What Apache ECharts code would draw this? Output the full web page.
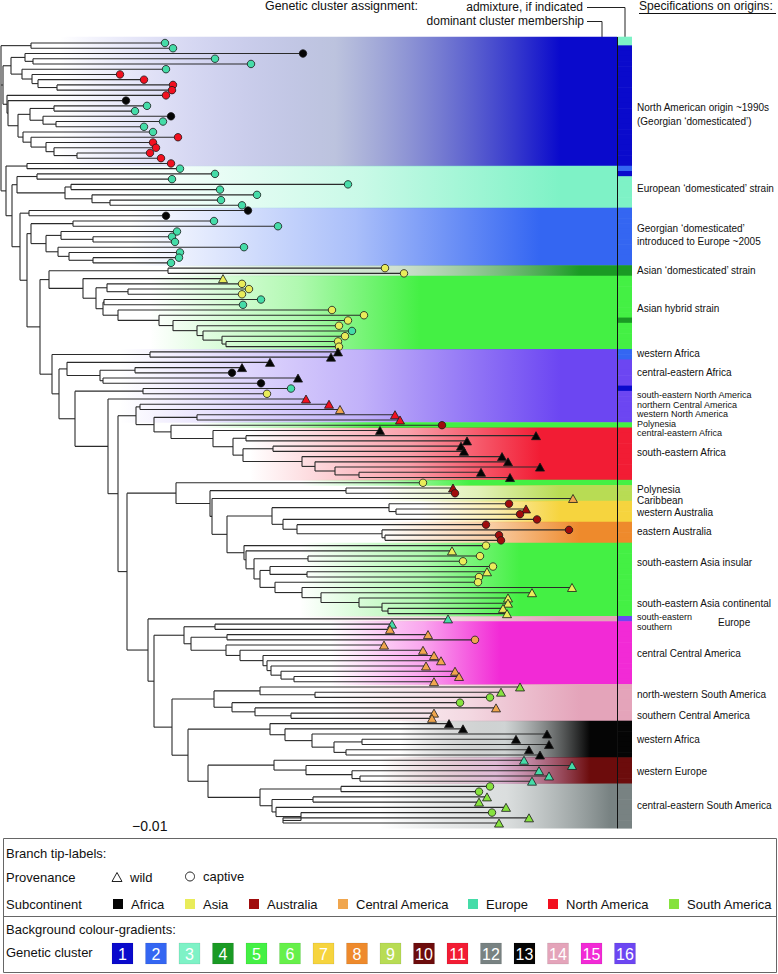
<!DOCTYPE html>
<html>
<head>
<meta charset="utf-8">
<script src="https://cdn.jsdelivr.net/npm/echarts@6/dist/echarts.min.js"></script>
<style>html,body{margin:0;padding:0;background:#fff}#c{width:778px;height:974px}</style>
</head>
<body>
<div id="c"></div>
<script>
// ================= DATA =================
// tip depth of every terminal branch (genetic distance, 1 unit = 0.01/8 subst.), leaves top to bottom
const tipDepth = [165,173,303,215,251,166,120,144,173,172, 166,126,147,135,171,163,144,153,178,153,
  156,150,161,171,180,215,172,348,220,257, 221,242,248,166,214,278,177,172,175,244,
  180,179,171,385,404,223,242,249,242,261, 243,332,364,348,339,352,345,338,339,338,
  331,270,242,232,298,261,291,267,306,329, 340,395,400,442,380,536,467,461,464,502,
  508,540,481,510,423,453,455,573,509,526, 520,537,486,569,499,501,486,452,480,463,
  493,487,479,478,572,532,508,508,503,507, 448,392,390,428,475,384,423,434,441,426,
  455,459,434,520,501,490,460,496,434,432, 449,463,547,516,549,529,540,524,572,539,
  549,532,490,479,487,479,506,492,529,499];
// provenance per leaf: t = wild, c = captive
const provenance = 'cccccccccc' + 'cccccccccc' + 'cccccccccc' + 'cccccccccc' + 'ccccctcccc' +
  'ccccccccct' + 'tttctccctt' + 'tttctttttt' + 'ttttctctct' + 'ccccccctcc' +
  'ctcctttttt' + 'ttttcttttt' + 'tttttccttt' + 'tttttttttt' + 'ttcctttctt';
// subcontinent per leaf: F Africa, A Asia, U Australia, C Central America, E Europe, N North America, S South America
const subcontinent = 'EEFEEENNNN' + 'NFEEFEEENN' + 'NNNNEEEEEE' + 'EEFFEEEEEE' + 'EEEAAAAAAE' +
  'EAAAAEAAAF' + 'FFFFFFEANN' + 'CNNUFFFFFF' + 'FFFFAUUCUU' + 'UUUUUUAAAA' +
  'AAAAAAAAAA' + 'EECCCCCCCC' + 'CCCSSSSCCC' + 'FFFFFFFEEE' + 'EESSSSSSSS';

// tree topology: [node depth, child, child...]; '*' = next leaf
const cladeNA = [31,'*','*'];
const cladeGeorgia1 = [3,
  [11,[25,'*',[33,'*','*']],[22,'*',[32,'*',[38,'*',[57,'*','*']]]]],
  [7,'*',[8,'*',[18,[30,[54,'*','*'],[43,'*',[56,'*','*']]],[23,'*',[31,'*',[46,'*',[54,'*',[77,'*','*']]]]]]]]];
const cladeEU1 = [27,'*','*'];
const cladeEU2 = [17,[37,'*','*'],[65,[71,'*','*'],[92,'*',[110,'*','*']]]];
const cladeGE2a = [29,'*','*'];
const cladeGE2b = [31,[73,'*','*'],[46,[61,'*',[93,'*','*']],[58,'*',[69,'*',[93,'*','*']]]]];
const cladeAsia = [49,[168,'*','*'],[83,'*',[96,[107,'*',[128,'*','*']],[103,[104,'*','*'],[118,'*',[159,'*',[173,'*',[197,'*',[203,'*',[222,'*',[226,'*','*']]]]]]]]]]];
const cladeAfrW = [150,'*','*'];
const cladeAfrCE = [67,'*',[100,[135,'*','*'],[103,'*','*']]];
const cladeMixA = [143,'*','*'];
const cladeRed = [136,[140,'*','*'],[154,[197,'*','*'],[171,'*',[213,'*',[233,[246,'*','*'],[243,[273,'*','*'],[302,'*',[315,'*',[335,'*',[359,'*','*']]]]]]]]]];
const cladeSEA = [244,'*',[246,'*',[254,[308,'*','*'],[260,[270,'*',[307,'*','*']],[275,'*',[302,'*',[321,'*',[359,'*',[382,'*',[388,'*','*']]]]]]]]]];
const cladeAus = [227,[272,[389,'*',[396,'*','*']],[283,'*',[297,'*',[382,'*',[385,'*','*']]]]],cladeSEA];
const cladePac = [176,'*',[210,[346,'*','*'],[212,'*',cladeAus]]];
const cladeCAm = [184,[215,'*','*'],[191,[227,'*','*'],[226,'*',[240,'*',[263,'*',[267,'*',[271,'*',[281,'*',[294,'*','*']]]]]]]]];
const cladeSAm = [214,[260,'*',[315,'*','*']],[232,'*',[255,'*',[291,'*','*']]]];
const cladeAfrW2 = [270,'*',[285,'*',[312,'*',[334,[362,'*','*'],[346,'*','*']]]]];
const cladeEurW = [274,'*',[306,'*',[352,'*',[360,'*','*']]]];
const cladeSAm2 = [260,[341,'*','*'],[272,[313,'*','*'],[276,'*',[301,'*',[283,'*','*']]]]];
const tree = [1, cladeNA, cladeGeorgia1,
  [6, cladeEU1,
   [12, cladeEU2,
    [20, cladeGE2a,
     [27, cladeGE2b,
      [40, cladeAsia,
       [52, cladeAfrW,
        [59, cladeAfrCE,
         [75, cladeMixA,
          [108, '*',
           [118, cladeRed,
            [127, cladePac,
             [148, '*',
              [154, cladeCAm,
               [172, cladeSAm,
                [188, cladeAfrW2,
                 [208, cladeEurW, cladeSAm2]]]]]]]]]]]]]]]]];

// background bands: dominant genetic cluster per leaf block
const bandStart   = [0,24,32,43,45,59,73,74,84,85,88,92,96,110,111,123,130,137,142];
const bandEnd     = [23,31,42,44,58,72,73,83,84,87,91,95,109,110,122,129,136,141,149];
const bandCluster = [1,3,2,4,5,16,5,11,5,9,7,8,5,14,15,14,13,10,12];
// admixture column: rows whose indicated cluster differs from the band
const admixRows     = [0,24,25,53,59,60,66,110];
const admixClusters = [3,2,1,4,2,2,1,16];

// origin specifications
const originLabels = ['North American origin ~1990s','(Georgian \u2018domesticated\u2019)','European \u2018domesticated\u2019 strain',
  'Georgian \u2018domesticated\u2019','introduced to Europe ~2005','Asian \u2018domesticated\u2019 strain','Asian hybrid strain',
  'western Africa','central-eastern Africa','south-eastern North America','northern Central America','western North America',
  'Polynesia','central-eastern Africa','south-eastern Africa','Polynesia','Caribbean','western Australia','eastern Australia',
  'south-eastern Asia insular','south-eastern Asia continental','south-eastern','southern','Europe','central Central America',
  'north-western South America','southern Central America','western Africa','western Europe','central-eastern South America'];
const originRows = [12.4,14.9,27.7,35.5,38.0,43.5,50.8,59.4,63.0,67.24,69.05,70.87,72.68,74.5,78.3,85.2,87.3,89.6,93.4,
  99.3,107.0,109.65,111.46,110.7,116.7,124.4,128.4,133.1,139.1,145.6];

const regionCodes = 'FAUCENS';
const regionNames = ['Africa','Asia','Australia','Central America','Europe','North America','South America'];
const provenanceNames = ['wild','captive'];
const clusterIds = [1,2,3,4,5,6,7,8,9,10,11,12,13,14,15,16];
const scaleLabel = '\u22120.01';

// ================= STYLE =================
const regionColors = ['#050505','#e9ec5a','#a00c0c','#f0a64e','#45dca8','#f2101f','#86e23e'];
const clusterColors = [null,'#0a0acc','#3466f2','#7ef2c6','#1a9a24','#44f044','#66f04a','#f6d43e','#ee8a2c','#b8dc54',
  '#6c0c0c','#f21c34','#788282','#050505','#e4a4ba','#f22ad6','#6c46f2'];
const clusterMid = {1:'#6070b0',4:'#8fb890',10:'#b45a9e',13:'#8e9898',12:'#a8b0b0'};
const bandFade = [[60,560],[120,560],[130,540],[170,580],[150,420],[120,560],[200,380],[250,540],[300,470],[380,560],
  [420,560],[380,580],[300,520],[300,560],[330,500],[330,580],[400,590],[380,590],[380,610]];
const FONT = '"Liberation Sans", Arial, sans-serif';
const X_MAX = 778, Y_MIN = -1.15, Y_MAX = 150, BAND_X1 = 617, BAR_X0 = 617, BAR_X1 = 632, LABEL_X = 637;
const labelShift = {23: 81};
const labelSize = {9: 9, 10: 9, 11: 9, 12: 9, 13: 9, 21: 9, 22: 9};

// ================= BUILD =================
const N = tipDepth.length;
let leafCounter = 0;
const segs = [];
function layout(node) {
  if (node === '*') { const i = leafCounter++; return {y: i, x: tipDepth[i]}; }
  const x = node[0];
  const kids = node.slice(1).map(layout);
  const y0 = kids[0].y, y1 = kids[kids.length - 1].y;
  segs.push([x, y0, x, y1]);
  kids.forEach(k => segs.push([x, k.y, k.x, k.y]));
  return {y: (y0 + y1) / 2, x: x};
}
layout(tree);

function rgba(hex, a) {
  const v = parseInt(hex.slice(1), 16);
  return 'rgba(' + (v >> 16 & 255) + ',' + (v >> 8 & 255) + ',' + (v & 255) + ',' + a + ')';
}

const bandData = bandStart.map((s, b) => [s, bandEnd[b], bandCluster[b], b]);
const barData = [];
for (let b = 0; b < bandStart.length; b++) for (let r = bandStart[b]; r <= bandEnd[b]; r++) {
  const k = admixRows.indexOf(r);
  barData.push([r, k >= 0 ? admixClusters[k] : bandCluster[b]]);
}
const tipData = tipDepth.map((d, i) => {
  const wild = provenance[i] === 't';
  return {value: [d, i], symbol: wild ? 'triangle' : 'circle', symbolSize: wild ? [9, 8] : 7.5,
    itemStyle: {color: regionColors[regionCodes.indexOf(subcontinent[i])], borderColor: '#1a1a1a', borderWidth: 0.8, opacity: 1}};
});
const labelData = originRows.map((r, i) => [r, i]);

function bandItem(params, api) {
  const s = api.value(0), e = api.value(1), c = api.value(2), b = api.value(3);
  const y0 = s === 0 ? Y_MIN : s - 0.5, y1 = e === N - 1 ? Y_MAX : e + 0.5;
  const p0 = api.coord([0, y0]), p1 = api.coord([BAND_X1, y1]);
  const col = clusterColors[c];
  const fs = bandFade[b][0] / BAND_X1, ff = bandFade[b][1] / BAND_X1, fm = fs + (ff - fs) * 0.55;
  const stops = [
    {offset: 0, color: rgba(col, 0)}, {offset: fs, color: rgba(col, 0)},
    {offset: fm, color: rgba(clusterMid[c] || col, 0.42)},
    {offset: ff, color: rgba(col, 1)}, {offset: 1, color: rgba(col, 1)}];
  return {type: 'rect', shape: {x: p0[0], y: p0[1] - 0.3, width: p1[0] - p0[0], height: p1[1] - p0[1] + 0.6},
    style: {fill: new echarts.graphic.LinearGradient(0, 0, 1, 0, stops)}};
}
function barItem(params, api) {
  const r = api.value(0), c = api.value(1);
  const y0 = r === 0 ? Y_MIN : r - 0.5, y1 = r === N - 1 ? Y_MAX : r + 0.5;
  const p0 = api.coord([BAR_X0, y0]), p1 = api.coord([BAR_X1, y1]);
  return {type: 'rect', shape: {x: p0[0], y: p0[1] - 0.3, width: p1[0] - p0[0], height: p1[1] - p0[1] + 0.6},
    style: {fill: clusterColors[c]}};
}
function segItem(params, api) {
  const a = api.coord([api.value(0), api.value(1)]), b = api.coord([api.value(2), api.value(3)]);
  return {type: 'line', shape: {x1: a[0], y1: a[1], x2: b[0], y2: b[1]}, style: {stroke: '#2b2b2b', lineWidth: 1.1}};
}
function labelItem(params, api) {
  const i = api.value(1);
  const p = api.coord([LABEL_X + (labelShift[i] || 0), api.value(0)]);
  return {type: 'text', x: p[0], y: p[1], style: {text: originLabels[i], fill: '#111', font: (labelSize[i] || 10) + 'px ' + FONT,
    align: 'left', verticalAlign: 'middle', textAlign: 'left', textVerticalAlign: 'middle'}};
}
function barEdge(params, api) {
  const a = api.coord([BAR_X0, Y_MIN]), b = api.coord([BAR_X0, Y_MAX]);
  return {type: 'line', shape: {x1: a[0] + 0.5, y1: a[1], x2: b[0] + 0.5, y2: b[1]}, style: {stroke: '#111', lineWidth: 1}};
}

// ---- graphic: annotations and legend ----
function txt(x, y, s, size, opts) {
  return {type: 'text', x: x, y: y, z: 10, style: Object.assign({text: s, fill: '#111', font: size + 'px ' + FONT,
    align: 'left', verticalAlign: 'middle', textAlign: 'left', textVerticalAlign: 'middle'}, opts || {})};
}
const G = [];
G.push(txt(265, 6, 'Genetic cluster assignment:', 12.4));
G.push(txt(583, 7, 'admixture, if indicated', 12, {align: 'right', textAlign: 'right'}));
G.push(txt(584, 21, 'dominant cluster membership', 12, {align: 'right', textAlign: 'right'}));
G.push({type: 'polyline', shape: {points: [[587, 7.5], [625, 7.5], [625, 37]]}, style: {stroke: '#222', lineWidth: 1, fill: null}});
G.push({type: 'polyline', shape: {points: [[587, 21.5], [602, 21.5], [602, 37]]}, style: {stroke: '#222', lineWidth: 1, fill: null}});
G.push(txt(639, 6, 'Specifications on origins:', 12.1));
G.push({type: 'line', shape: {x1: 639, y1: 13.5, x2: 776, y2: 13.5}, style: {stroke: '#111', lineWidth: 1}});
G.push(txt(132, 826, scaleLabel, 14));
// legend box
G.push({type: 'rect', shape: {x: 3.5, y: 838.5, width: 773, height: 134}, style: {fill: 'none', stroke: '#666', lineWidth: 1}});
G.push({type: 'line', shape: {x1: 3.5, y1: 916.5, x2: 776.5, y2: 916.5}, style: {stroke: '#666', lineWidth: 1}});
G.push(txt(6, 853, 'Branch tip-labels:', 13));
G.push(txt(6, 877, 'Provenance', 13));
G.push({type: 'polygon', shape: {points: [[112, 881.5], [122, 881.5], [117, 872.5]]}, style: {fill: 'none', stroke: '#222', lineWidth: 1}});
G.push(txt(130, 877, provenanceNames[0], 13));
G.push({type: 'circle', shape: {cx: 190, cy: 876.5, r: 4.5}, style: {fill: 'none', stroke: '#222', lineWidth: 1}});
G.push(txt(203, 876, provenanceNames[1], 13));
G.push(txt(6, 904, 'Subcontinent', 13));
const regionSqX = [113, 185, 249, 338, 468, 548, 669];
regionNames.forEach((n, i) => {
  G.push({type: 'rect', shape: {x: regionSqX[i], y: 899, width: 10, height: 10}, style: {fill: regionColors[i]}});
  G.push(txt(regionSqX[i] + 18, 904, n, 13));
});
G.push(txt(6, 929, 'Background colour-gradients:', 13));
G.push(txt(6, 952, 'Genetic cluster', 13));
clusterIds.forEach((c, i) => {
  const x = 112 + 33.5 * i;
  G.push({type: 'rect', shape: {x: x, y: 943, width: 21, height: 21}, style: {fill: clusterColors[c], stroke: 'rgba(0,0,0,0.15)', lineWidth: 0.5}});
  G.push(txt(x + 10.5, 954, String(c), 16, {fill: '#fff', align: 'center', textAlign: 'center'}));
});

const chart = echarts.init(document.getElementById('c'), null, {renderer: 'svg'});
chart.setOption({
  animation: false,
  grid: {left: 0, right: 0, top: 37, bottom: 974 - 828.3},
  xAxis: {type: 'value', min: 0, max: X_MAX, show: false},
  yAxis: {type: 'value', min: Y_MIN, max: Y_MAX, inverse: true, show: false},
  series: [
    {type: 'custom', name: 'bands', data: bandData, renderItem: bandItem, z: 1, silent: true, clip: false,
      encode: {x: -1, y: [0, 1]}},
    {type: 'custom', name: 'admixture', data: barData, renderItem: barItem, z: 1, silent: true, clip: false,
      encode: {x: -1, y: 0}},
    {type: 'custom', name: 'edge', data: [[0]], renderItem: barEdge, z: 2, silent: true, clip: false},
    {type: 'custom', name: 'branches', data: segs, renderItem: segItem, z: 3, silent: true, clip: false,
      encode: {x: [0, 2], y: [1, 3]}},
    {type: 'scatter', name: 'tips', data: tipData, z: 4, silent: true, clip: false},
    {type: 'custom', name: 'origins', data: labelData, renderItem: labelItem, z: 4, silent: true, clip: false,
      encode: {x: -1, y: 0}}
  ],
  graphic: G
});
</script>
</body>
</html>
